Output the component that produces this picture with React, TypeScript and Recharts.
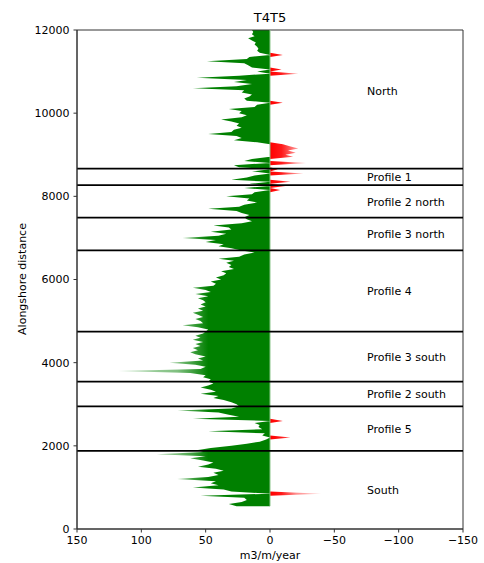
import React from "react";
import {
  ComposedChart,
  Area,
  XAxis,
  YAxis,
  ReferenceLine,
  ReferenceArea,
  ReferenceDot,
} from "recharts";

// alongshore spacing of the transects (m)
const STEP = 50;

// m3/m/year, positive = green, negative = red; one value per STEP from each region start
const southValues = [
  26, 32, 22, 18, 20, 54, -40, 30, 36, 60, 40, 46, 42, 72, 48, 40, 44, 36, 42, 56,
  48, 44, 52, 62, 50, 88, 52,
];
const profile5Values = [
  56, 46, 30, 18, 8, 3, -16, 6, 4, 48, 6, 9, 8, 12, -10, 60, 24, 32, 40, 72, 30, 24,
];
const profile2SouthValues = [26, 30, 36, 44, 40, 54, 42, 46, 54, 48, 44];
const profile3SouthValues = [
  48, 46, 52, 50, 62, 118, 54, 50, 58, 78, 52, 56, 50, 58, 62, 56, 60, 54, 58, 52,
  60, 54, 58, 52,
];
const profile4Values = [
  50, 48, 56, 68, 52, 54, 58, 52, 56, 60, 52, 56, 50, 54, 50, 52, 56, 48, 58, 46,
  50, 60, 44, 42, 46, 38, 42, 36, 34, 38, 28, 32, 30, 34, 28, 40, 24, 20, 12,
];
const profile3NorthValues = [22, 30, 40, 36, 50, 42, 68, 40, 34, 46, 30, 32, 44, 22, 14, 18];
const profile2NorthValues = [20, 16, 22, 26, 48, 24, 20, 10, 18, 16, 34, 14, 12, -8, 20, -12];
const profile1Values = [16, -16, 30, 18, 12, -26, 14, -6];
const northValues = [
  24, 28, -28, 20, 14, -18, -12, -20, -14, -22,
  -16, -10, 10, 28, 22, 26, 48, 30, 28, 22,
  26, 24, 30, 38, 22, 18, 24, 22, 32, 12,
  10, -10, 18, 20, 16, 14, 22, 20, 60, 26,
  14, 28, 18, 57, 24, -22, 10, -9, 14, 17,
  20, 49, 18, 16, -10, 8, 10, 9, 10, 12,
  11, 14, 17, 12, 14, 13, 14,
];

const segments = [
  { start: 550, values: southValues },
  { start: 1900, values: profile5Values },
  { start: 3000, values: profile2SouthValues },
  { start: 3550, values: profile3SouthValues },
  { start: 4750, values: profile4Values },
  { start: 6700, values: profile3NorthValues },
  { start: 7500, values: profile2NorthValues },
  { start: 8300, values: profile1Values },
  { start: 8700, values: northValues },
];

const boundaries = [1880, 2950, 3545, 4745, 6700, 7490, 8270, 8665];

const regionNames = [
  "South",
  "Profile 5",
  "Profile 2 south",
  "Profile 3 south",
  "Profile 4",
  "Profile 3 north",
  "Profile 2 north",
  "Profile 1",
  "North",
];
const regionLabelY = [930, 2405, 3245, 4145, 5730, 7090, 7870, 8470, 10530];

const xTicks = [150, 100, 50, 0, -50, -100, -150];
const yTicks = [0, 2000, 4000, 6000, 8000, 10000, 12000];

const FONT = "DejaVu Sans";

const rows = segments.flatMap((s) =>
  s.values.map((v, i) => ({
    d: s.start + i * STEP,
    pos: Math.max(v, 0),
    neg: Math.min(v, 0),
  }))
);

// gradient offsets are fractions of each area's own bounding box
const greenMax = Math.max(...rows.map((r) => r.pos));
const redMax = Math.max(...rows.map((r) => -r.neg));
const gOff = (v: number) => Math.min(1, v / greenMax);
const rOff = (v: number) => Math.min(1, v / redMax);

const fmtX = (v: number) => (v < 0 ? "\u2212" + Math.abs(v) : String(v));

export default function App() {
  const tick = { fill: "#000", fontSize: 11, fontFamily: FONT };
  return (
    <div style={{ position: "absolute", left: 0, top: 0, width: 484, height: 563, background: "#fff" }}>
      <div
        style={{
          position: "absolute",
          left: 170,
          top: 10,
          width: 200,
          textAlign: "center",
          fontFamily: FONT,
          fontSize: 13,
          color: "#000",
        }}
      >
        T4T5
      </div>
      <div
        style={{
          position: "absolute",
          left: 22,
          top: 279,
          transform: "translate(-50%, -50%) rotate(-90deg)",
          whiteSpace: "nowrap",
          fontFamily: FONT,
          fontSize: 11,
          color: "#000",
        }}
      >
        Alongshore distance
      </div>
      <ComposedChart
        layout="vertical"
        width={484}
        height={563}
        data={rows}
        margin={{ top: 30, right: 21, bottom: 0, left: 0 }}
      >
        <defs>
          {/* thin spikes come out washed out in the original, fade the far ends */}
          <linearGradient id="greenFade" x1="1" y1="0" x2="0" y2="0">
            <stop offset={0} stopColor="#008000" stopOpacity={1} />
            <stop offset={gOff(48)} stopColor="#008000" stopOpacity={1} />
            <stop offset={gOff(72)} stopColor="#008000" stopOpacity={0.5} />
            <stop offset={1} stopColor="#008000" stopOpacity={0.25} />
          </linearGradient>
          <linearGradient id="redFade" x1="0" y1="0" x2="1" y2="0">
            <stop offset={0} stopColor="#ff0000" stopOpacity={1} />
            <stop offset={rOff(9)} stopColor="#ff0000" stopOpacity={0.9} />
            <stop offset={rOff(20)} stopColor="#ff0000" stopOpacity={0.45} />
            <stop offset={1} stopColor="#ff0000" stopOpacity={0.15} />
          </linearGradient>
        </defs>
        <XAxis
          type="number"
          domain={[-150, 150]}
          ticks={xTicks}
          reversed
          tickFormatter={fmtX}
          tick={tick}
          tickSize={3.5}
          tickMargin={4}
          height={34}
          stroke="#333"
          allowDataOverflow
          label={{ value: "m3/m/year", position: "insideBottom", offset: 4, fill: "#000", fontSize: 11, fontFamily: FONT }}
        />
        <YAxis
          type="number"
          dataKey="d"
          domain={[0, 12000]}
          ticks={yTicks}
          reversed
          tick={tick}
          tickSize={3.5}
          tickMargin={4}
          width={77}
          stroke="#333"
          allowDataOverflow
        />
        <Area dataKey="pos" type="linear" baseValue={0} fill="url(#greenFade)" fillOpacity={1} stroke="none" isAnimationActive={false} />
        <Area dataKey="neg" type="linear" baseValue={0} fill="url(#redFade)" fillOpacity={1} stroke="none" isAnimationActive={false} />
        <ReferenceLine
          segment={[
            { x: 0, y: 550 },
            { x: 0, y: 12000 },
          ]}
          stroke="#8cc68c"
          strokeWidth={1}
        />
        {boundaries.map((b) => (
          <ReferenceLine key={b} y={b} stroke="#000" strokeWidth={1.8} />
        ))}
        <ReferenceArea x1={-150} x2={150} y1={0} y2={12000} fill="none" stroke="#333" strokeWidth={1} />
        {regionNames.map((name, i) => (
          <ReferenceDot
            key={name}
            x={-71.5}
            y={regionLabelY[i]}
            r={0}
            fill="none"
            stroke="none"
            label={{ value: name, position: "right", fill: "#000", fontSize: 11, fontFamily: FONT }}
          />
        ))}
      </ComposedChart>
    </div>
  );
}
